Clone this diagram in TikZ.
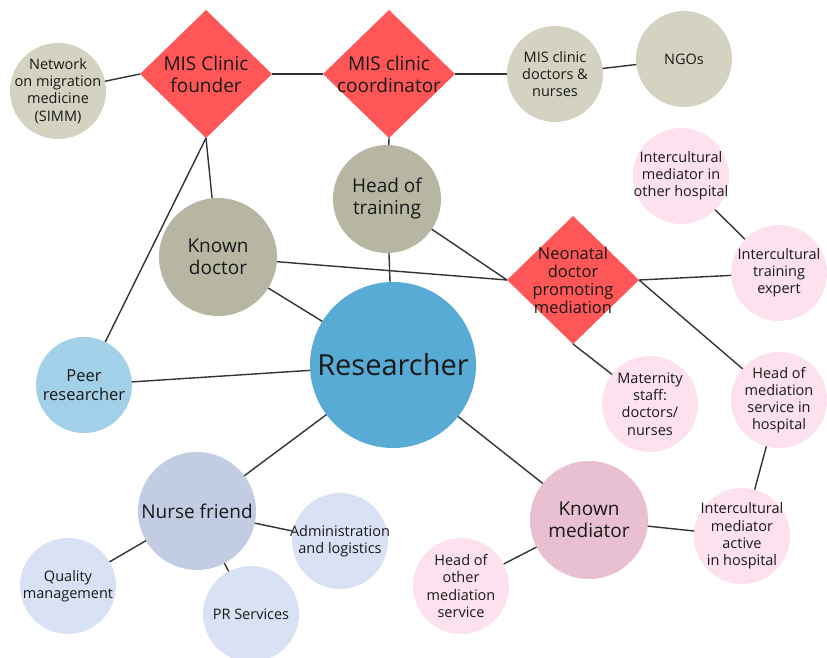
\documentclass[tikz,border=0pt]{standalone}
\usepackage{fontspec}
\setmainfont{Open Sans}
\usetikzlibrary{shapes.geometric}

\definecolor{keyred}{HTML}{FF5757}
\definecolor{sage}{HTML}{D4D3C1}
\definecolor{sagedark}{HTML}{B6B6A3}
\definecolor{researchblue}{HTML}{57ABD5}
\definecolor{peerblue}{HTML}{A2D0E8}
\definecolor{nurseblue}{HTML}{C2CCE3}
\definecolor{paleblue}{HTML}{D9E1F4}
\definecolor{palepink}{HTML}{FDE1EF}
\definecolor{mediatorpink}{HTML}{E9C0D2}
\definecolor{linkgray}{HTML}{333333}

\begin{document}
\begin{tikzpicture}[x=1pt, y=-1pt,
	every node/.style={inner sep=-14pt, outer sep=0pt, align=center, text=black!90},
	bubble/.style={circle, minimum size=96pt, font=\fontsize{14.5}{17.2}\selectfont},
	bigbubble/.style={circle, minimum size=118pt, font=\fontsize{19}{22}\selectfont},
	keyperson/.style={diamond, minimum width=132pt, minimum height=128pt, fill=keyred, font=\fontsize{19}{22}\selectfont},
	link/.style={draw=linkgray, line width=1.4pt}]
	\useasboundingbox (0,0) rectangle (827,658);
	
	\node[bubble, fill=sage] (simm) at (58,91) {Network\\on migration\\medicine\\(SIMM)};
	\node[keyperson] (founder) at (206,74) {MIS Clinic\\founder};
	\node[keyperson] (coord) at (389,74) {MIS clinic\\coordinator};
	\node[bubble, fill=sage] (misdoc) at (555,74) {MIS clinic\\doctors \&\\nurses};
	\node[bubble, fill=sage] (ngo) at (684,59) {NGOs};
	
	\node[bigbubble, minimum size=108pt, fill=sagedark] (training) at (387,199) {Head of\\training};
	\node[bigbubble, fill=sagedark] (knowndoc) at (218,257) {Known\\doctor};
	\node[circle, minimum size=166pt, fill=researchblue, font=\fontsize{29}{34}\selectfont] (researcher) at (393,365) {Researcher};
	\node[bubble, fill=peerblue, font=\fontsize{16.5}{19}\selectfont] (peer) at (84,385) {Peer\\researcher};
	
	\node[bigbubble, fill=nurseblue] (nurse) at (197,511) {Nurse friend};
	\node[bubble, fill=paleblue] (quality) at (68,586) {Quality\\management};
	\node[bubble, fill=paleblue] (pr) at (251,614) {PR Services};
	\node[bubble, fill=paleblue] (admin) at (340,541) {Administration\\and logistics};
	
	\node[keyperson, font=\fontsize{16.5}{18}\selectfont] (neonatal) at (573,280) {Neonatal\\doctor\\promoting\\mediation};
	\node[bubble, fill=palepink] (imother) at (681,176) {Intercultural\\mediator in\\other hospital};
	\node[bubble, fill=palepink] (expert) at (779,273) {Intercultural\\training\\expert};
	\node[bubble, fill=palepink] (maternity) at (650,404) {Maternity\\staff:\\doctors/\\nurses};
	\node[bubble, fill=palepink] (headmed) at (779,400) {Head of\\mediation\\service in\\hospital};
	\node[bigbubble, fill=mediatorpink] (knownmed) at (589,520) {Known\\mediator};
	\node[bubble, fill=palepink] (imactive) at (742,536) {Intercultural\\mediator\\active\\in hospital};
	\node[bubble, fill=palepink] (headother) at (461,586) {Head of\\other\\mediation\\service};
	
	% top row
	\draw[link] (simm) -- (founder.west);
	\draw[link] (founder) -- (coord);
	\draw[link] (coord) -- (misdoc);
	\draw[link] (misdoc) -- (ngo);
	\draw[link] (founder.south) -- (knowndoc);
	\draw[link] (founder.south) -- (peer);
	\draw[link] (coord.south) -- (training);
	
	% around the researcher
	\draw[link] (training) -- (researcher);
	\draw[link] (training) -- (neonatal.west);
	\draw[link] (knowndoc) -- (neonatal.west);
	\draw[link] (knowndoc) -- (researcher);
	\draw[link] (peer) -- (researcher);
	\draw[link] (researcher) -- (nurse);
	\draw[link] (researcher) -- (knownmed);
	
	% mediation side
	\draw[link] (neonatal.east) -- (expert);
	\draw[link] (neonatal.south) -- (maternity);
	\draw[link] (neonatal.east) -- (headmed);
	\draw[link] (imother) -- (expert);
	\draw[link] (headmed) -- (imactive);
	\draw[link] (knownmed) -- (imactive);
	\draw[link] (knownmed) -- (headother);
	
	% nurse friend
	\draw[link] (nurse) -- (quality);
	\draw[link] (nurse) -- (pr);
	\draw[link] (nurse) -- (admin);
\end{tikzpicture}
\end{document}
